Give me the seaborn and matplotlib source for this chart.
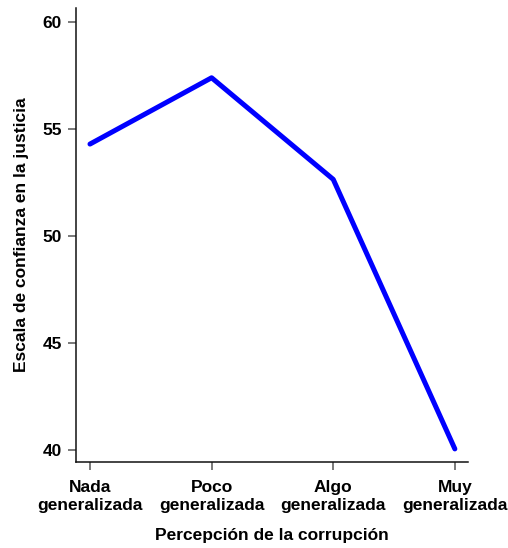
import pandas as pd
import matplotlib
matplotlib.use('Agg')
import matplotlib.pyplot as plt
import seaborn as sns

# Perception categories and mean confidence score
categorias = ['Nada\ngeneralizada', 'Poco\ngeneralizada', 'Algo\ngeneralizada', 'Muy\ngeneralizada']
confianza = [54.3, 57.4, 52.65, 40.05]
y_ticks = [40, 45, 50, 55, 60]

df = pd.DataFrame({'pos': range(len(categorias)), 'confianza': confianza})

sns.set_theme(style='white')
plt.rcParams['font.family'] = ['Liberation Sans', 'DejaVu Sans']
plt.rcParams['text.color'] = 'black'
plt.rcParams['axes.labelcolor'] = 'black'
plt.rcParams['xtick.color'] = 'black'
plt.rcParams['ytick.color'] = 'black'

fig = plt.figure(figsize=(5.08, 5.48), dpi=100)
ax = fig.add_axes([0.1496, 0.157, 0.7714, 0.828])

sns.lineplot(data=df, x='pos', y='confianza', color='#0000ff', linewidth=3.6,
             solid_capstyle='round', ax=ax)

ax.set_xlim(-0.115, 3.107)
ax.set_ylim(39.44, 60.65)
ax.set_xticks(range(len(categorias)))
ax.set_xticklabels(categorias, fontsize=12.5, fontweight='bold', linespacing=1.25)
ax.set_yticks(y_ticks)
ax.set_yticklabels([str(t) for t in y_ticks], fontsize=12.5, fontweight='bold')

ax.set_xlabel('Percepción de la corrupción', fontsize=12.5, fontweight='bold', labelpad=11)
ax.set_ylabel('Escala de confianza en la justicia', fontsize=12.5, fontweight='bold', labelpad=10)

for side in ['top', 'right']:
    ax.spines[side].set_visible(False)
for side in ['left', 'bottom']:
    ax.spines[side].set_color('#111111')
    ax.spines[side].set_linewidth(1.1)

ax.tick_params(axis='both', direction='out', length=6, width=1.1, color='#555555',
               bottom=True, left=True, pad=4)
ax.tick_params(axis='x', pad=7)

fig.savefig('out.png', dpi=100)
